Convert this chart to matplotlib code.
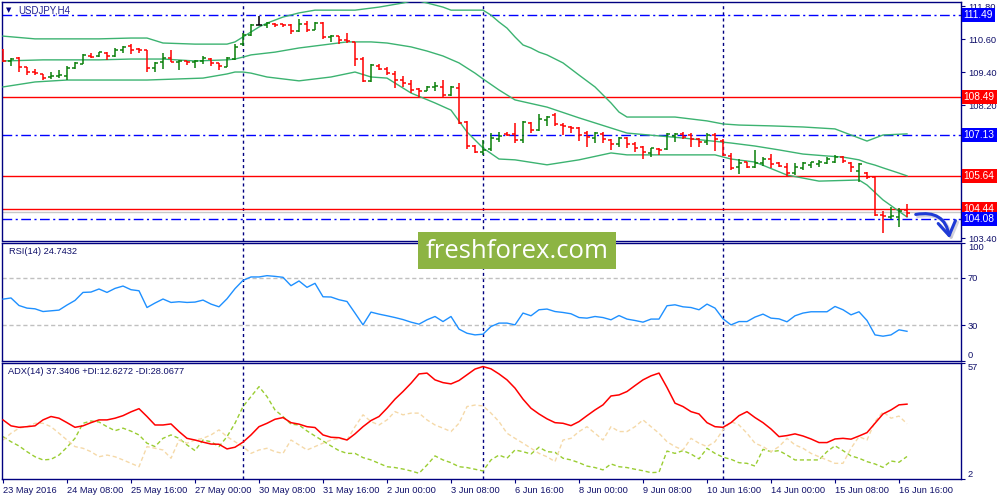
import matplotlib
matplotlib.use('Agg')
import matplotlib.pyplot as plt
from matplotlib.collections import LineCollection
from matplotlib.patches import Rectangle, FancyArrowPatch, ArrowStyle
import matplotlib.transforms as mtransforms

# ---------------- data ----------------
symbol = "USDJPY,H4"

opens = [110.21, 109.81, 109.92, 109.59, 109.41, 109.34, 109.23, 109.27, 109.27, 109.56,
         109.70, 109.99, 109.99, 110.10, 109.99, 110.21, 110.35, 110.24, 110.21, 109.56,
         109.77, 109.92, 109.77, 109.81, 109.77, 109.81, 109.88, 109.74, 109.59, 109.88,
         110.42, 110.75, 111.11, 111.11, 111.15, 111.15, 111.11, 110.90, 111.15, 110.93,
         111.18, 110.68, 110.71, 110.57, 110.50, 109.88, 109.09, 109.63, 109.52, 109.34,
         109.12, 108.98, 108.80, 108.72, 108.87, 108.87, 108.58, 108.83, 107.60, 106.73,
         106.52, 106.62, 106.99, 107.17, 107.17, 106.95, 107.56, 107.31, 107.67, 107.85,
         107.49, 107.42, 107.38, 107.20, 107.02, 107.17, 106.95, 106.81, 107.02, 106.81,
         106.70, 106.48, 106.62, 106.62, 107.09, 107.17, 107.13, 106.99, 106.88, 107.13,
         106.91, 106.37, 105.97, 106.15, 105.97, 106.12, 106.26, 106.12, 105.97, 105.76,
         105.94, 106.05, 106.08, 106.12, 106.15, 106.33, 106.12, 105.83, 105.76, 105.61,
         104.24, 104.17, 104.17, 104.42]
highs = [110.24, 109.92, 109.95, 109.59, 109.52, 109.34, 109.41, 109.48, 109.63, 109.77,
         110.06, 110.10, 110.13, 110.13, 110.28, 110.35, 110.42, 110.28, 110.21, 109.77,
         110.10, 110.21, 109.85, 109.81, 109.85, 109.99, 109.92, 109.74, 109.95, 110.42,
         110.82, 111.15, 111.44, 111.22, 111.18, 111.15, 111.15, 111.33, 111.26, 111.22,
         111.22, 110.75, 110.71, 110.82, 110.50, 109.95, 109.70, 109.70, 109.59, 109.45,
         109.27, 109.12, 108.83, 108.91, 109.05, 109.12, 108.91, 109.01, 107.64, 106.77,
         106.95, 107.20, 107.24, 107.24, 107.56, 107.64, 107.60, 107.89, 107.82, 107.93,
         107.56, 107.46, 107.42, 107.28, 107.24, 107.24, 106.99, 107.06, 107.06, 106.88,
         106.73, 106.66, 106.66, 107.20, 107.20, 107.24, 107.20, 107.02, 107.20, 107.20,
         106.99, 106.48, 106.26, 106.15, 106.59, 106.33, 106.44, 106.15, 106.12, 106.12,
         106.15, 106.15, 106.23, 106.33, 106.41, 106.37, 106.15, 106.12, 105.79, 105.61,
         104.38, 104.53, 104.49, 104.63]
lows = [109.77, 109.63, 109.41, 109.30, 109.30, 109.12, 109.16, 109.19, 109.12, 109.52,
        109.70, 109.92, 109.95, 109.85, 109.95, 110.10, 110.06, 110.10, 109.41, 109.41,
        109.52, 109.77, 109.48, 109.66, 109.56, 109.70, 109.63, 109.48, 109.59, 109.85,
        110.35, 110.71, 111.11, 111.00, 111.04, 111.04, 110.79, 110.86, 110.86, 110.93,
        110.61, 110.50, 110.42, 110.46, 109.63, 109.05, 109.05, 109.48, 109.30, 108.83,
        108.87, 108.65, 108.51, 108.72, 108.72, 108.51, 108.54, 107.53, 106.62, 106.48,
        106.41, 106.55, 106.88, 107.09, 106.84, 106.84, 107.20, 107.28, 107.46, 107.46,
        107.13, 107.20, 106.91, 106.70, 106.84, 106.84, 106.59, 106.70, 106.66, 106.52,
        106.26, 106.33, 106.41, 106.59, 106.88, 106.99, 106.70, 106.70, 106.77, 106.55,
        106.37, 105.86, 105.72, 105.94, 105.94, 106.01, 105.94, 105.97, 105.61, 105.68,
        105.86, 105.94, 105.97, 106.08, 106.12, 106.12, 105.79, 105.43, 105.54, 104.20,
        103.59, 104.09, 103.80, 104.17]
closes = [109.81, 109.88, 109.59, 109.41, 109.37, 109.19, 109.27, 109.30, 109.56, 109.74,
          110.03, 109.95, 110.13, 109.99, 110.21, 110.32, 110.21, 110.21, 109.56, 109.74,
          109.92, 109.77, 109.81, 109.77, 109.81, 109.92, 109.74, 109.63, 109.92, 110.32,
          110.75, 111.11, 111.11, 111.18, 111.11, 111.11, 110.90, 111.15, 110.93, 111.18,
          110.68, 110.71, 110.57, 110.53, 109.88, 109.09, 109.66, 109.52, 109.37, 109.12,
          109.01, 108.76, 108.72, 108.87, 108.91, 108.58, 108.87, 107.56, 106.73, 106.52,
          106.59, 107.02, 107.09, 107.13, 106.95, 107.60, 107.31, 107.71, 107.78, 107.53,
          107.46, 107.38, 107.13, 107.06, 107.20, 106.99, 106.81, 107.02, 106.81, 106.66,
          106.52, 106.66, 106.59, 107.17, 107.17, 107.06, 106.99, 106.88, 107.13, 106.99,
          106.41, 105.94, 106.12, 105.97, 106.12, 106.26, 106.08, 106.01, 105.76, 105.97,
          106.12, 106.15, 106.15, 106.26, 106.33, 106.19, 105.97, 106.08, 105.61, 104.24,
          104.20, 104.20, 104.38, 104.31]

bb_up_idx = [0, 4, 8, 12, 16, 18, 20, 24, 28, 29, 30, 31, 32, 33, 35, 37, 39, 44, 47, 50,
             51, 52, 53, 55, 56, 60, 61, 62, 63, 64, 65, 66, 67, 68, 70, 72, 74, 75, 76, 77,
             78, 84, 86, 88, 90, 92, 96, 100, 104, 106, 108, 109, 110, 113]
bb_up = [110.71, 110.61, 110.61, 110.61, 110.64, 110.64, 110.46, 110.42, 110.42, 110.50,
         110.68, 110.86, 111.04, 111.18, 111.40, 111.55, 111.65, 111.65, 111.76, 111.91,
         111.98, 111.98, 111.91, 111.76, 111.65, 111.65, 111.47, 111.22, 111.00, 110.68,
         110.39, 110.28, 110.13, 110.03, 109.74, 109.30, 108.87, 108.58, 108.29, 107.96,
         107.78, 107.78, 107.71, 107.64, 107.53, 107.49, 107.46, 107.42, 107.35, 107.13,
         106.91, 107.02, 107.13, 107.17]
bb_mid_idx = [0, 5, 12, 16, 20, 24, 28, 29, 30, 31, 34, 37, 40, 43, 46, 48, 51, 53, 55, 57,
              59, 60, 62, 64, 68, 72, 78, 85, 91, 94, 97, 100, 103, 105, 107, 108, 109, 110, 112, 113]
bb_mid = [109.81, 109.85, 109.85, 109.88, 109.88, 109.81, 109.85, 109.88, 109.95, 110.03,
          110.13, 110.28, 110.39, 110.50, 110.50, 110.46, 110.32, 110.17, 109.99, 109.74,
          109.37, 109.16, 108.76, 108.40, 108.14, 107.75, 107.20, 107.02, 106.84, 106.73,
          106.59, 106.44, 106.37, 106.33, 106.23, 106.12, 106.04, 105.94, 105.75, 105.65]
bb_lo_idx = [0, 4, 8, 18, 25, 28, 29, 30, 31, 33, 37, 41, 44, 46, 48, 51, 54, 56, 58, 60,
             62, 64, 68, 72, 76, 78, 83, 89, 91, 94, 98, 102, 107, 108, 110, 113]
bb_lo = [108.87, 109.05, 109.12, 109.12, 109.19, 109.34, 109.41, 109.41, 109.37, 109.23,
         109.09, 109.23, 109.41, 109.23, 109.19, 108.65, 108.29, 108.03, 107.24, 106.66,
         106.26, 106.23, 106.05, 106.23, 106.48, 106.41, 106.41, 106.41, 106.26, 106.15,
         105.68, 105.46, 105.50, 105.32, 104.78, 104.16]

rsi = [52.0, 53.0, 46.6, 44.4, 43.8, 41.5, 42.1, 42.7, 47.0, 50.9,
       57.7, 58.0, 60.6, 57.7, 61.1, 63.1, 60.0, 59.1, 44.9, 48.7,
       52.1, 49.2, 49.8, 49.2, 49.5, 51.2, 47.8, 45.5, 52.3, 60.9,
       67.9, 70.8, 70.8, 71.9, 71.3, 70.5, 63.4, 67.4, 62.0, 65.4,
       54.0, 53.8, 51.5, 50.0, 40.2, 30.2, 41.0, 39.3, 37.9, 36.4,
       34.7, 32.5, 30.8, 34.5, 37.3, 33.0, 37.3, 26.6, 23.1, 21.7,
       22.3, 28.8, 31.7, 31.7, 30.2, 40.2, 37.9, 43.0, 43.6, 41.5,
       40.7, 39.6, 36.4, 35.9, 37.3, 36.4, 34.5, 38.1, 35.1, 33.9,
       32.5, 35.1, 35.1, 46.4, 47.2, 45.5, 44.9, 43.0, 47.8, 44.4,
       35.3, 30.2, 33.0, 33.0, 36.8, 39.3, 35.9, 35.3, 32.8, 37.9,
       40.2, 41.3, 41.3, 41.3, 45.8, 43.0, 38.7, 41.3, 33.9, 21.7,
       20.6, 21.7, 26.0, 24.74]

adx = [29.9, 27.1, 26.4, 26.7, 27.1, 29.9, 31.5, 30.7, 28.6, 26.4,
       27.1, 28.6, 29.9, 29.9, 30.7, 31.9, 33.7, 35.2, 31.5, 27.5,
       27.5, 28.0, 24.4, 21.2, 20.4, 19.4, 18.5, 18.4, 16.2, 17.0,
       19.4, 22.8, 26.7, 28.3, 30.2, 31.0, 28.6, 27.9, 26.7, 26.3,
       22.8, 21.7, 21.5, 20.4, 23.3, 26.7, 29.6, 31.5, 35.4, 39.7,
       43.3, 47.2, 51.6, 52.0, 48.8, 47.5, 46.9, 48.5, 51.2, 53.9,
       55.1, 54.0, 51.6, 48.8, 44.9, 39.7, 35.4, 32.7, 30.4, 28.6,
       28.3, 27.2, 29.1, 31.9, 34.6, 37.0, 41.2, 41.7, 43.3, 46.1,
       48.8, 50.7, 52.0, 45.2, 37.8, 36.2, 33.8, 32.7, 28.6, 26.7,
       26.4, 28.6, 31.9, 33.8, 31.0, 28.6, 25.6, 22.0, 22.5, 23.3,
       22.3, 20.9, 19.2, 19.2, 20.9, 21.2, 20.8, 22.3, 23.9, 28.3,
       32.7, 34.6, 37.0, 37.34]
plus_di = [22.0, 19.6, 17.6, 14.9, 12.5, 11.0, 11.3, 13.3, 17.0, 21.2,
           28.3, 29.4, 28.9, 26.7, 24.8, 26.0, 24.6, 22.8, 18.9, 17.3,
           21.2, 22.8, 21.2, 18.1, 15.4, 20.4, 19.6, 17.3, 22.0, 28.3,
           36.2, 40.9, 45.6, 40.9, 34.6, 31.5, 27.9, 27.5, 24.7, 22.3,
           20.0, 17.6, 15.4, 14.1, 14.1, 12.1, 11.0, 9.4, 7.8, 7.4,
           6.7, 5.8, 4.7, 8.6, 12.9, 11.0, 9.7, 7.8, 7.4, 6.6,
           5.8, 11.0, 13.3, 11.8, 15.7, 14.9, 13.8, 17.0, 14.9, 14.6,
           11.8, 11.0, 9.7, 8.1, 7.4, 6.3, 9.1, 7.8, 7.4, 6.6,
           5.9, 5.0, 5.2, 15.2, 14.1, 15.4, 13.8, 11.5, 16.5, 14.1,
           12.3, 11.3, 9.7, 9.4, 8.1, 16.0, 14.9, 15.4, 13.3, 11.0,
           11.0, 11.0, 11.0, 14.9, 17.7, 15.4, 12.9, 11.8, 10.2, 9.1,
           7.5, 10.5, 9.9, 12.63]
minus_di = [20.4, 23.6, 26.0, 26.7, 28.3, 28.3, 26.7, 23.6, 20.4, 17.3,
            16.5, 14.9, 12.5, 13.3, 12.5, 11.0, 9.4, 7.8, 17.3, 16.5,
            15.7, 11.8, 20.4, 18.9, 20.4, 21.2, 22.8, 25.2, 22.0, 19.6,
            17.3, 14.1, 15.7, 16.5, 14.9, 14.1, 20.4, 18.1, 15.7, 17.3,
            18.9, 20.4, 21.2, 20.4, 26.7, 32.3, 29.1, 27.5, 29.9, 33.8,
            32.3, 33.1, 33.1, 29.9, 27.5, 26.0, 24.4, 28.3, 36.2, 36.9,
            36.5, 33.1, 29.1, 23.6, 21.2, 18.9, 16.5, 14.1, 12.5, 10.2,
            20.4, 21.2, 24.4, 26.7, 23.6, 20.4, 26.7, 24.4, 24.4, 26.7,
            29.9, 26.7, 23.6, 19.6, 17.3, 15.7, 21.2, 18.9, 17.3, 19.6,
            25.2, 29.1, 27.5, 23.6, 18.9, 17.3, 14.9, 17.3, 21.2, 18.1,
            16.5, 14.1, 12.5, 11.0, 9.4, 9.4, 16.5, 22.0, 20.4, 29.1,
            33.8, 30.7, 31.7, 28.07]

levels_red = [108.49, 105.64, 104.44]
levels_blue = [111.49, 107.13, 104.08]
ask_price = 104.33
separators = [30, 60, 90]
price_ticks = [111.80, 110.60, 109.40, 108.20, 107.00, 105.80, 104.60, 103.40]
rsi_levels = [70, 30]
time_tick_idx = [0, 8, 16, 24, 32, 40, 48, 56, 64, 72, 80, 88, 96, 104, 112]
time_labels = ["23 May 2016", "24 May 08:00", "25 May 16:00", "27 May 00:00",
               "30 May 08:00", "31 May 16:00", "2 Jun 00:00", "3 Jun 08:00",
               "6 Jun 16:00", "8 Jun 00:00", "9 Jun 08:00", "10 Jun 16:00",
               "14 Jun 00:00", "15 Jun 08:00", "16 Jun 16:00"]
rsi_title = "RSI(14) 24.7432"
adx_title = "ADX(14) 37.3406 +DI:12.6272 -DI:28.0677"
watermark = "freshforex.com"

# ---------------- style ----------------
NAVY = '#000080'
TXT = '#10106A'
FONT = 'Liberation Sans'
FS = 6.7
plt.rcParams['font.family'] = [FONT, 'DejaVu Sans']

W, H = 1000, 500
fig = plt.figure(figsize=(10, 5), dpi=100)
fig.patch.set_facecolor('white')


def ax_px(left, top, right, bottom):
    return fig.add_axes([left / W, 1 - bottom / H, (right - left) / W, (bottom - top) / H])


ax_p = ax_px(2, 2, 961, 240.5)
ax_r = ax_px(2, 242.5, 961, 360.5)
ax_a = ax_px(2, 362.5, 961, 479)

n = len(closes)
XL = (-0.125, 119.75)
for ax in (ax_p, ax_r, ax_a):
    ax.set_xlim(*XL)
    ax.set_facecolor('white')
    for s in ax.spines.values():
        s.set_color(NAVY)
        s.set_linewidth(1.0)
    ax.yaxis.tick_right()
    ax.tick_params(axis='y', which='both', direction='out', length=3, width=0.8,
                   colors=NAVY, labelcolor=TXT, labelsize=FS, pad=2)
    for sep in separators:
        ax.axvline(sep, color=NAVY, lw=1.0, ls=(0, (2.2, 2.2)), zorder=1)

# ---------- price panel ----------
ax_p.set_ylim(103.31, 111.945)
ax_p.set_xticks([])
ax_p.set_yticks(price_ticks)
ax_p.set_yticklabels([f'{v:.2f}' for v in price_ticks])

for lv in levels_red:
    ax_p.axhline(lv, color='#FF0000', lw=1.0, zorder=2)
for lv in levels_blue:
    ax_p.axhline(lv, color='#0000FF', lw=1.0, ls=(0, (7, 2.5, 1.5, 2.5)), zorder=2)
ax_p.axhline(ask_price, color='#C8C8C8', lw=1.0, zorder=1.5)

ax_p.plot(bb_up_idx, bb_up, color='#3CB371', lw=1.0, zorder=3)
ax_p.plot(bb_mid_idx, bb_mid, color='#3CB371', lw=1.0, zorder=3)
ax_p.plot(bb_lo_idx, bb_lo, color='#3CB371', lw=1.0, zorder=3)

segs, cols = [], []
tk = 0.375
for i in range(n):
    o, h, l, c = opens[i], highs[i], lows[i], closes[i]
    col = '#0A800A' if c > o else ('#FF0000' if c < o else '#000000')
    segs += [[(i, l), (i, h)], [(i - tk, o), (i, o)], [(i, c), (i + tk, c)]]
    cols += [col] * 3
ax_p.add_collection(LineCollection(segs, colors=cols, linewidths=1.1, zorder=4))

blend = mtransforms.blended_transform_factory(ax_p.transAxes, ax_p.transData)
for lv, fc in [(v, '#FF0000') for v in levels_red] + [(v, '#0000FF') for v in levels_blue]:
    ax_p.text(1.0028, lv, f'{lv:.2f}', transform=blend, ha='left', va='center',
              color='white', fontsize=7.3, clip_on=False, zorder=20,
              bbox=dict(boxstyle='square,pad=0.2', fc=fc, ec='none'))

fig.text(9 / W, 1 - 10 / H, '\u25BC', fontsize=5, color=NAVY, ha='center', va='center',
         family='DejaVu Sans')
fig.text(18 / W, 1 - 10.5 / H, symbol, fontsize=FS + 0.3, color='#202090', ha='left', va='center')

# ---------- RSI panel ----------
ax_r.set_ylim(0, 100)
ax_r.set_xticks([])
for lv in rsi_levels:
    ax_r.axhline(lv, color='#C0C0C0', lw=1.0, ls=(0, (3, 2)), zorder=1)
ax_r.plot(range(n), rsi, color='#1E90FF', lw=1.0, zorder=3)
ax_r.set_yticks([0, 30, 70, 100])
ax_r.set_yticklabels(['0', '30', '70', '100'])
yl = ax_r.get_yticklabels()
yl[0].set_va('bottom')
yl[-1].set_va('top')
ax_r.text(7 / 959, 1 - 8.5 / 118, rsi_title, transform=ax_r.transAxes, fontsize=FS,
          color=TXT, ha='left', va='center')

# ---------- ADX panel ----------
ax_a.set_ylim(2, 57)
ax_a.plot(range(n), plus_di, color='#9ACD32', lw=1.0, ls=(0, (3, 2)), zorder=2)
ax_a.plot(range(n), minus_di, color='#F5D9A8', lw=1.0, ls=(0, (3, 2)), zorder=2)
ax_a.plot(range(n), adx, color='#FF0000', lw=1.1, zorder=3)
ax_a.set_yticks([2, 57])
ax_a.set_yticklabels(['2', '57'])
yl = ax_a.get_yticklabels()
yl[0].set_va('bottom')
yl[-1].set_va('top')
ax_a.text(6 / 959, 1 - 9 / 116.5, adx_title, transform=ax_a.transAxes, fontsize=FS,
          color=TXT, ha='left', va='center')
ax_a.set_xticks(time_tick_idx)
ax_a.set_xticklabels(time_labels)
ax_a.tick_params(axis='x', direction='out', length=3, width=0.8, colors=NAVY,
                 labelcolor=TXT, labelsize=FS, pad=2)
for t in ax_a.get_xticklabels():
    t.set_ha('left')

# ---------- watermark ----------
fig.add_artist(Rectangle((418 / W, 1 - 269 / H), 198 / W, 37 / H, transform=fig.transFigure,
                         facecolor='#8DB443', edgecolor='none', zorder=30))
fig.text(517 / W, 1 - 251 / H, watermark, fontsize=18.5, color='white', ha='center',
         va='center', family=['Open Sans', 'DejaVu Sans'], zorder=31)

# ---------- hand-drawn arrow ----------
arr_shadow = FancyArrowPatch((915 / W, 1 - 217 / H), (952 / W, 1 - 243 / H),
                             transform=fig.transFigure, connectionstyle='arc3,rad=-0.55',
                             arrowstyle=ArrowStyle('->', head_length=0.7, head_width=0.45),
                             mutation_scale=14, color='#B8B8C8', lw=2.4, zorder=32, alpha=0.6)
arr = FancyArrowPatch((913 / W, 1 - 215 / H), (950 / W, 1 - 241 / H),
                      transform=fig.transFigure, connectionstyle='arc3,rad=-0.55',
                      arrowstyle=ArrowStyle('->', head_length=0.7, head_width=0.45),
                      mutation_scale=14, color='#1F3BD6', lw=2.2, zorder=33)
fig.add_artist(arr_shadow)
fig.add_artist(arr)

fig.savefig('out.png', dpi=100, facecolor='white')
